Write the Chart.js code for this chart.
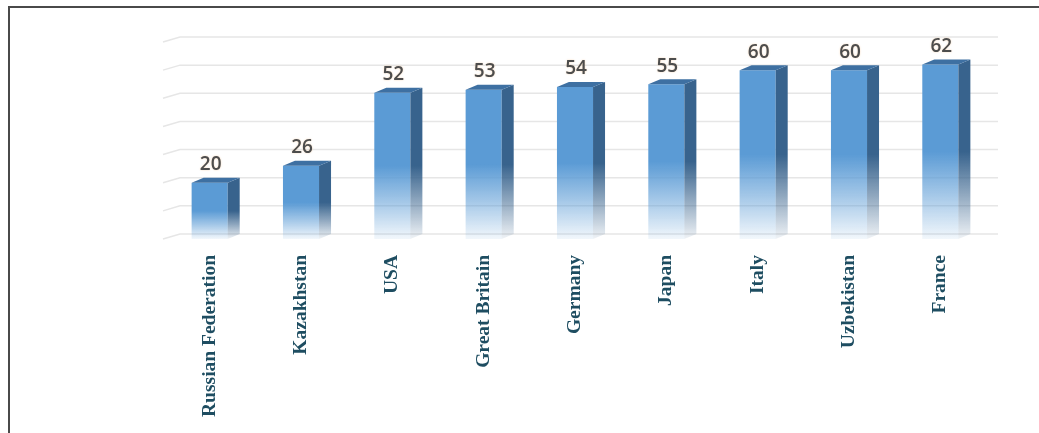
<!DOCTYPE html>
<html>
<head>
<meta charset="utf-8">
<script src="https://cdn.jsdelivr.net/npm/chart.js@4.4.1/dist/chart.umd.min.js"></script>
<style>
  html, body { margin: 0; padding: 0; background: #fff; }
  #wrap { position: relative; width: 1039px; height: 433px; overflow: hidden; }
  #frame {
    position: absolute; left: 8px; top: 6px; width: 1100px; height: 500px;
    border-top: 2px solid #4a4a4a; border-left: 2px solid #4a4a4a;
    pointer-events: none;
  }
</style>
</head>
<body>
<div id="wrap">
  <canvas id="chart" width="1039" height="433"></canvas>
  <div id="frame"></div>
</div>
<script>
// Data
const countries = ['Russian Federation', 'Kazakhstan', 'USA', 'Great Britain', 'Germany', 'Japan', 'Italy', 'Uzbekistan', 'France'];
const values = [20, 26, 52, 53, 54, 55, 60, 60, 62];

// depth of the fake 3D extrusion
const DX = 12, DY = 5;

// vertical gradient for one bar, solid at the top, fading to white towards the base
function fadeGradient(ctx, top, base, solid) {
    const g = ctx.createLinearGradient(0, top, 0, base);
    g.addColorStop(0, solid);
    g.addColorStop(0.5, solid);
    g.addColorStop(0.75, solid.replace('1)', '0.55)'));
    g.addColorStop(1, solid.replace('1)', '0.08)'));
    return g;
}

function barColor(context) {
    const chart = context.chart;
    const y = chart.scales.y;
    const fallback = 'rgba(91,155,213,1)';
    if (!y || context.dataIndex === undefined) return fallback;
    const top = y.getPixelForValue(values[context.dataIndex]);
    const base = y.getPixelForValue(0);
    if (!isFinite(top) || !isFinite(base) || top === base) return fallback;
    return fadeGradient(chart.ctx, top, base, fallback);
}

// back wall grid lines, drawn before the bars
const backWall = {
    id: 'backWall',
    beforeDatasetsDraw(chart) {
        const { ctx, chartArea, scales: { y } } = chart;
        ctx.save();
        ctx.strokeStyle = '#e6e6e6';
        ctx.lineWidth = 1.5;
        y.ticks.forEach(t => {
            const py = y.getPixelForValue(t.value);
            ctx.beginPath();
            ctx.moveTo(chartArea.left - 1, py);
            ctx.lineTo(chartArea.left + DX + 4, py - DY);
            ctx.lineTo(chartArea.right + DX, py - DY);
            ctx.stroke();
        });
        ctx.restore();
    }
};

// side and top faces plus the value labels
const extrude = {
    id: 'extrude',
    afterDatasetsDraw(chart) {
        const ctx = chart.ctx;
        const meta = chart.getDatasetMeta(0);
        meta.data.forEach((bar, i) => {
            const { x, y, base, width } = bar.getProps(['x', 'y', 'base', 'width'], true);
            const left = x - width / 2, right = x + width / 2;

            // side face
            ctx.save();
            ctx.fillStyle = fadeGradient(ctx, y, base, 'rgba(56,99,141,1)');
            ctx.beginPath();
            ctx.moveTo(right, y);
            ctx.lineTo(right + DX, y - DY);
            ctx.lineTo(right + DX, base - DY);
            ctx.lineTo(right, base);
            ctx.closePath();
            ctx.fill();

            // top face
            ctx.fillStyle = '#3e70a2';
            ctx.beginPath();
            ctx.moveTo(left, y);
            ctx.lineTo(left + DX, y - DY);
            ctx.lineTo(right + DX, y - DY);
            ctx.lineTo(right, y);
            ctx.closePath();
            ctx.fill();

            // value label
            ctx.font = '600 19px "Open Sans"';
            ctx.textAlign = 'center';
            ctx.textBaseline = 'middle';
            ctx.shadowColor = 'rgba(240,170,100,0.45)';
            ctx.shadowBlur = 2;
            ctx.fillStyle = '#4d4d4d';
            ctx.fillText(String(values[i]), x + 1, y - 18);
            ctx.restore();
        });
    }
};

new Chart(document.getElementById('chart'), {
    type: 'bar',
    data: {
        labels: countries,
        datasets: [{
            data: values,
            backgroundColor: barColor,
            borderWidth: 0,
            barPercentage: 0.395,
            categoryPercentage: 1
        }]
    },
    options: {
        responsive: false,
        animation: false,
        layout: { padding: { left: 164, right: 53, top: 42, bottom: 0 } },
        plugins: {
            legend: { display: false },
            tooltip: { enabled: false }
        },
        scales: {
            x: {
                grid: { display: false, drawTicks: false },
                border: { display: false },
                ticks: {
                    autoSkip: false,
                    minRotation: 90,
                    maxRotation: 90,
                    padding: 16,
                    color: '#1e4d61',
                    font: { family: '"Liberation Serif"', weight: 'bold', size: 19.5 }
                },
                afterFit(scale) { scale.height = 194; }
            },
            y: {
                display: false,
                min: 0,
                max: 70,
                ticks: { stepSize: 10 }
            }
        }
    },
    plugins: [backWall, extrude]
});
</script>
</body>
</html>
